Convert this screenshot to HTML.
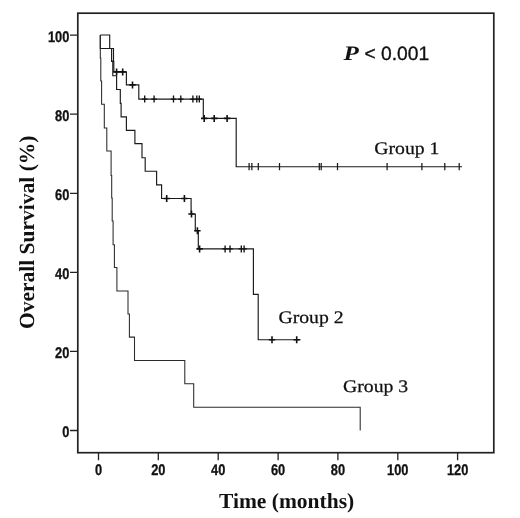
<!DOCTYPE html>
<html><head><meta charset="utf-8">
<style>
html,body{margin:0;padding:0;background:#fff;}
body{width:520px;height:518px;overflow:hidden;}
svg{display:block;will-change:transform;}
text{text-rendering:geometricPrecision;}
.ax{font-family:"Liberation Sans",sans-serif;font-weight:bold;font-size:14.5px;fill:#111;stroke:#111;stroke-width:0.3px;}
.lab{font-family:"Liberation Serif",serif;font-weight:bold;font-size:21.5px;fill:#111;}
.grp{font-family:"Liberation Serif",serif;font-size:17.6px;fill:#111;stroke:#111;stroke-width:0.25px;}
</style></head><body>
<svg width="520" height="518" viewBox="0 0 520 518">
<rect width="520" height="518" fill="#fff"/>
<!-- frame -->
<rect x="77.8" y="13.2" width="416" height="439.5" fill="none" stroke="#222" stroke-width="1.7"/>
<!-- y ticks -->
<g stroke="#222" stroke-width="1.3">
<path d="M70 35.1H77.8M70 114.2H77.8M70 193.3H77.8M70 272.3H77.8M70 351.4H77.8M70 430.5H77.8"/>
<path d="M98.5 452.7V460.2M158.3 452.7V460.2M218.2 452.7V460.2M278.1 452.7V460.2M337.9 452.7V460.2M397.8 452.7V460.2M457.6 452.7V460.2"/>
</g>
<!-- y tick labels -->
<g class="ax" text-anchor="end">
<text transform="translate(69.4,41.5) scale(0.885,1.06)">100</text>
<text transform="translate(69.4,120.6) scale(0.885,1.06)">80</text>
<text transform="translate(69.4,199.7) scale(0.885,1.06)">60</text>
<text transform="translate(69.4,278.7) scale(0.885,1.06)">40</text>
<text transform="translate(69.4,357.8) scale(0.885,1.06)">20</text>
<text transform="translate(69.4,436.9) scale(0.885,1.06)">0</text>
</g>
<g class="ax" text-anchor="middle">
<text transform="translate(98.5,474.8) scale(0.885,1.06)">0</text>
<text transform="translate(158.3,474.8) scale(0.885,1.06)">20</text>
<text transform="translate(218.2,474.8) scale(0.885,1.06)">40</text>
<text transform="translate(278.1,474.8) scale(0.885,1.06)">60</text>
<text transform="translate(337.9,474.8) scale(0.885,1.06)">80</text>
<text transform="translate(397.8,474.8) scale(0.885,1.06)">100</text>
<text transform="translate(457.6,474.8) scale(0.885,1.06)">120</text>
</g>
<!-- axis labels -->
<text class="lab" text-anchor="middle" x="286.6" y="508.3">Time (months)</text>
<text class="lab" text-anchor="middle" transform="translate(34.4,232.3) rotate(-90)">Overall Survival (%)</text>
<!-- P value -->
<text transform="translate(343.6,59.5) scale(1.22,1)" style="font-family:'Liberation Serif',serif;font-weight:bold;font-style:italic;font-size:20.5px;fill:#111">P</text>
<text x="364.4" y="59.6" style="font-family:'Liberation Sans',sans-serif;font-size:19.2px;fill:#111;stroke:#111;stroke-width:0.35px">&lt;</text>
<text x="381" y="59.6" style="font-family:'Liberation Sans',sans-serif;font-size:19.3px;fill:#111;stroke:#111;stroke-width:0.35px">0.001</text>
<!-- group labels -->
<text class="grp" transform="translate(374.3,154.2) scale(1.12,1)">Group 1</text>
<text class="grp" transform="translate(278.4,322.8) scale(1.12,1)">Group 2</text>
<text class="grp" transform="translate(343,391.7) scale(1.12,1)">Group 3</text>
<!-- curves -->
<g fill="none" stroke="#1a1a1a" stroke-width="1.15" stroke-linejoin="miter">
<!-- Group 1 -->
<path d="M100.3 35H109.7V48.5H113.5V61.3H113.8V71.9H126.4V84.9H138.8V99.1H203.3V118.4H236.2V166.7H462"/>
<!-- Group 2 -->
<path d="M100.3 35V48.5H111.6V61.3H112.8V75.7H116.6V89.5H120.3V103.3H121.1V116.9H126.4V130.4H134.9V143.6H142V157.7H145.2V171.2H156.6V184.8H161.6V198.5H191.1V214H195.3V230.7H198.3V248.9H253.4V294.4H258.2V339.7H300.6"/>
<path d="M111.6 61.3H113.5"/>
</g>
<!-- Group 3 -->
<path fill="none" stroke="#2a2a2a" stroke-width="1.05" d="M100.3 35V57.9H100.8V81H101.6V104.2H104.3V128H106.8V151H111.1V175.5H111.7V198H112.2V220.9H113.1V244.7H114.4V267.5H116.9V290.9H128V314H129.4V337.1H134.5V360.4H184.8V383.8H193.7V407.3H360.2V430.5"/>
<!-- censor marks -->
<path stroke="#111" stroke-width="1.6" fill="none" d="M116.6 68.4V75.4M113.4 71.9H119.8M122.7 68.4V75.4M119.5 71.9H125.9M132.5 81.4V88.4M129.3 84.9H135.7M204.2 114.9V121.9M201.0 118.4H207.4M214.2 114.9V121.9M211.0 118.4H217.4M227.1 114.9V121.9M223.9 118.4H230.3M166.7 195.0V202.0M163.5 198.5H169.9M184.4 195.0V202.0M181.2 198.5H187.6M191.5 210.5V217.5M188.3 214.0H194.7M197.4 227.2V234.2M194.2 230.7H200.6M199.6 245.4V252.4M196.4 248.9H202.8M272.0 336.2V343.2M268.8 339.7H275.2M296.7 336.2V343.2M293.5 339.7H299.9"/>
<path stroke="#111" stroke-width="1.35" fill="none" d="M144.7 95.6V102.6M141.9 99.1H147.5M154.1 95.6V102.6M151.3 99.1H156.9M173.5 95.6V102.6M170.7 99.1H176.3M180.8 95.6V102.6M178.0 99.1H183.6M192.9 95.6V102.6M190.1 99.1H195.7M196.8 95.6V102.6M194.0 99.1H199.6M199.3 95.6V102.6M196.5 99.1H202.1M225.1 245.4V252.4M222.3 248.9H227.9M230.0 245.4V252.4M227.2 248.9H232.8M241.3 245.4V252.4M238.5 248.9H244.1M244.1 245.4V252.4M241.3 248.9H246.9"/>
<path stroke="#1a1a1a" stroke-width="1.25" fill="none" d="M249.10 163.1V170.3M251.85 163.1V170.3M258.30 163.1V170.3M279.50 163.1V170.3M319.30 163.1V170.3M321.20 163.1V170.3M337.50 163.1V170.3M387.10 163.1V170.3M421.90 163.1V170.3M444.80 163.1V170.3M459.20 163.1V170.3"/>
</svg>
</body></html>
